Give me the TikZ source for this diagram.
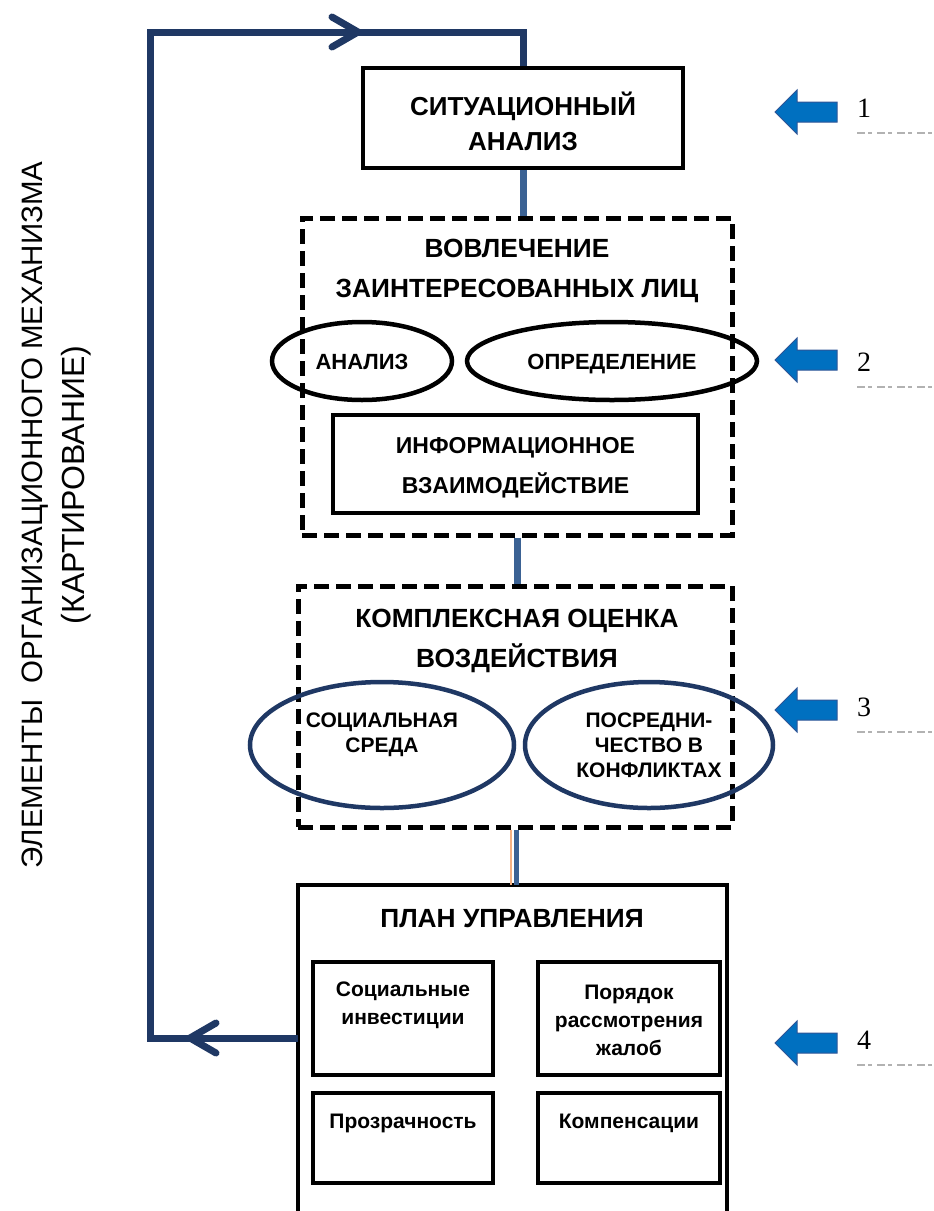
\documentclass[tikz,border=0pt]{standalone}
\usepackage{fontspec}
\setmainfont{Liberation Sans}
\newfontfamily\numfont{Liberation Serif}
\usetikzlibrary{shapes.geometric}
\definecolor{navy}{RGB}{31,56,100}
\definecolor{steel}{RGB}{59,98,148}
\definecolor{arrfill}{RGB}{0,112,192}
\definecolor{arrdraw}{RGB}{46,85,151}
\definecolor{peach}{RGB}{244,177,131}
\tikzset{
  fs/.style={font=\bfseries\fontsize{#1}{#1}\selectfont},
  solidbox/.style={draw=black, line width=4.5pt, inner sep=0pt},
  dashbox/.style={draw=black, line width=5pt, dash pattern=on 15pt off 7pt, inner sep=0pt},
  ellblack/.style={ellipse, draw=black, line width=4.5pt, inner sep=0pt, text height=16pt, text depth=0pt},
  ellblue/.style={ellipse, draw=navy, line width=4.5pt, inner sep=0pt, align=center, font=\bfseries\fontsize{21}{25}\selectfont},
  title/.style={align=center, font=\bfseries\fontsize{26.3}{40}\selectfont, inner sep=0pt},
  smalltxt/.style={align=center, font=\bfseries\fontsize{21}{28}\selectfont, inner sep=0pt},
  loopline/.style={draw=navy, line width=7pt, line join=miter},
  chev/.style={draw=navy, line width=7pt, line cap=round, line join=round},
  conn/.style={draw=steel, line width=7pt},
  blockarrow/.style={fill=arrfill, draw=arrdraw, line width=1pt},
  numtxt/.style={font=\numfont\fontsize{28}{28}\selectfont, inner sep=0pt, anchor=west},
  cuttext/.style={draw=gray!60, line width=1.5pt, dash pattern=on 8pt off 3pt on 4pt off 5pt},
  sidetxt/.style={rotate=90, inner sep=0pt}
}
\begin{document}
\begin{tikzpicture}[x=1pt, y=-1pt]
\useasboundingbox (0,0) rectangle (934,1211);
\fill[white] (0,0) rectangle (934,1211);

% side text
\node[sidetxt, font=\fontsize{29.5}{30}\selectfont] (side1) at (35,515) {ЭЛЕМЕНТЫ\ \ ОРГАНИЗАЦИОННОГО МЕХАНИЗМА};
\node[sidetxt, font=\fontsize{32}{32}\selectfont] (side2) at (76,485) {(КАРТИРОВАНИЕ)};

% box 1
\node[solidbox, minimum width=320pt, minimum height=100pt] (b1) at (523,118) {};
\node[title, font=\bfseries\fontsize{26}{35}\selectfont] (b1t) at (523,121) {СИТУАЦИОННЫЙ\\АНАЛИЗ};

% box 2
\node[dashbox, minimum width=430pt, minimum height=317pt] (b2) at (517,376.5) {};
\node[title] (b2t) at (517,271) {ВОВЛЕЧЕНИЕ\\ЗАИНТЕРЕСОВАННЫХ ЛИЦ};
\node[ellblack, minimum width=180pt, minimum height=78pt, fs=22] (e1) at (362,361) {АНАЛИЗ};
\node[ellblack, minimum width=290pt, minimum height=78pt, fs=22] (e2) at (612,361) {ОПРЕДЕЛЕНИЕ};
\node[solidbox, minimum width=365pt, minimum height=98pt] (b2i) at (515.5,464) {};
\node[title, font=\bfseries\fontsize{23}{40}\selectfont] (b2it) at (515.5,468) {ИНФОРМАЦИОННОЕ\\ВЗАИМОДЕЙСТВИЕ};

% box 3
\node[dashbox, minimum width=434pt, minimum height=241pt] (b3) at (515,706.5) {};
\node[title] (b3t) at (517,641) {КОМПЛЕКСНАЯ ОЦЕНКА\\ВОЗДЕЙСТВИЯ};
\node[ellblue, minimum width=264pt, minimum height=126pt] (e3) at (382,745) {};
\node[smalltxt, font=\bfseries\fontsize{21}{25}\selectfont] (e3t) at (382,735) {СОЦИАЛЬНАЯ\\СРЕДА};
\node[ellblue, minimum width=248pt, minimum height=126pt] (e4) at (649,745) {ПОСРЕДНИ-\\ЧЕСТВО В\\КОНФЛИКТАХ};

% box 4 (open at the bottom)
\node[minimum width=429pt, minimum height=335pt, inner sep=0pt] (b4) at (512.5,1052.5) {};
\draw[line width=4.5pt] (b4.south west) -- (b4.north west) -- (b4.north east) -- (b4.south east);
\node[title, font=\bfseries\fontsize{26.3}{30}\selectfont] (b4t) at (512,919) {ПЛАН УПРАВЛЕНИЯ};
\node[solidbox, minimum width=180pt, minimum height=113pt] (i1) at (403,1018.5) {};
\node[smalltxt] (i1t) at (403,1005) {Социальные\\инвестиции};
\node[solidbox, minimum width=182pt, minimum height=113pt] (i2) at (629,1018.5) {};
\node[smalltxt] (i2t) at (629,1020) {Порядок\\рассмотрения\\жалоб};
\node[solidbox, minimum width=180pt, minimum height=90pt] (i3) at (403,1138) {};
\node[smalltxt] (i3t) at (403,1123) {Прозрачность};
\node[solidbox, minimum width=182pt, minimum height=90pt] (i4) at (629,1138) {};
\node[smalltxt] (i4t) at (629,1123) {Компенсации};

% connectors
\draw[conn] (b1.south |- 0,170) -- (b1.south |- b2.north);
\draw[conn] (b2.south) -- (b2.south |- b3.north);
\draw[draw=peach, line width=2.5pt] ([xshift=-4pt]b3.south) -- ([xshift=-4pt]b3.south |- b4.north);
\draw[conn, line width=5pt] ([xshift=1pt]b3.south) -- ([xshift=1pt]b3.south |- b4.north);

% feedback loop
\coordinate (lt) at (150,32);
\coordinate (lb) at (150,1038);
\draw[loopline] (b4.west |- lb) -- (lb) -- (lt) -- (lt -| b1.north) -- (b1.north);
\draw[chev] (332,17) -- (358,32) -- (332,47);
\draw[chev] (216,1023) -- (190,1038) -- (216,1053);

% right side block arrows and numbers
\foreach \yy/\nn/\ny in {112/1/108, 360/2/362, 710/3/707, 1043/4/1040}{
  \draw[blockarrow] (775,\yy) -- (797,\yy-22) -- (797,\yy-10) -- (837,\yy-10) -- (837,\yy+10) -- (797,\yy+10) -- (797,\yy+22) -- cycle;
  \node[numtxt] (n\nn) at (857,\ny) {\nn};
  \draw[cuttext] (857,\ny+25) -- (934,\ny+25);
}
\end{tikzpicture}
\end{document}
